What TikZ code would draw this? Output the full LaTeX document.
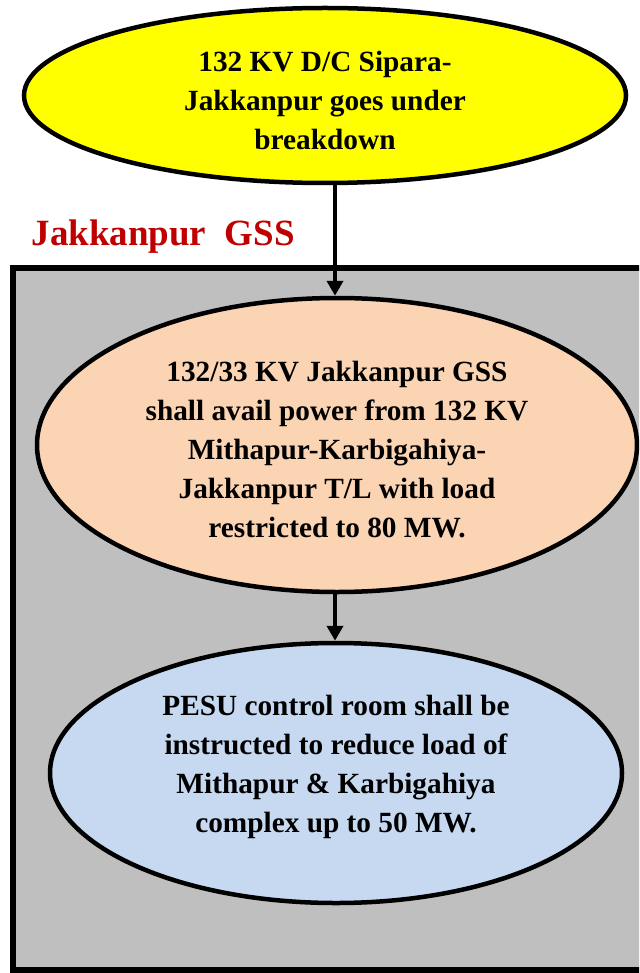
\documentclass[tikz,border=0pt]{standalone}
\usepackage{fontspec}
\setmainfont{Liberation Serif}
\usetikzlibrary{shapes.geometric,arrows.meta}
\definecolor{ellyellow}{RGB}{255,255,0}
\definecolor{ellpeach}{RGB}{251,212,180}
\definecolor{ellblue}{RGB}{198,217,241}
\definecolor{boxgray}{RGB}{191,191,191}
\definecolor{gssred}{RGB}{192,0,0}
\tikzset{
  bubble/.style={ellipse, draw=black, line width=4.5pt, inner sep=0pt, align=center,
    font=\fontsize{29.3}{39}\selectfont\bfseries},
  flowarrow/.style={line width=4.5pt, -{Triangle[length=15pt,width=16pt]}},
}
\begin{document}
\begin{tikzpicture}[x=1pt,y=-1pt]
\useasboundingbox (0,0) rectangle (639,973);
\clip (0,0) rectangle (639,973);
\draw[line width=5.5pt, fill=boxgray] (13,268) rectangle (660,970);
\node[anchor=west, text=gssred, font=\fontsize{37}{40}\selectfont\bfseries] (gss) at (28,237) {Jakkanpur\ \ GSS};
\node[bubble, fill=ellyellow, minimum width=602pt, minimum height=175pt] (a) at (325,95.5) {};
\node[font=\fontsize{29.3}{39}\selectfont\bfseries, align=center] (at) at (325,100) {132 KV D/C Sipara-\\Jakkanpur goes under\\breakdown};
\node[bubble, fill=ellpeach, minimum width=600pt, minimum height=294pt] (b) at (337,445) {};
\node[font=\fontsize{29.3}{39}\selectfont\bfseries, align=center] (bt) at (337,450) {132/33 KV Jakkanpur GSS\\shall avail power from 132 KV\\Mithapur-Karbigahiya-\\Jakkanpur T/L with load\\restricted to 80 MW.};
\node[bubble, fill=ellblue, minimum width=572pt, minimum height=260pt] (c) at (336,773) {};
\node[font=\fontsize{29.3}{39}\selectfont\bfseries, align=center] (ct) at (336,767) {PESU control room shall be\\instructed to reduce load of\\Mithapur \& Karbigahiya\\complex up to 50 MW.};
\coordinate (ax) at (335,0);
\draw[flowarrow] (a.south -| ax) -- (b.north -| ax);
\draw[flowarrow] (b.south -| ax) -- (c.north -| ax);
\end{tikzpicture}
\end{document}
